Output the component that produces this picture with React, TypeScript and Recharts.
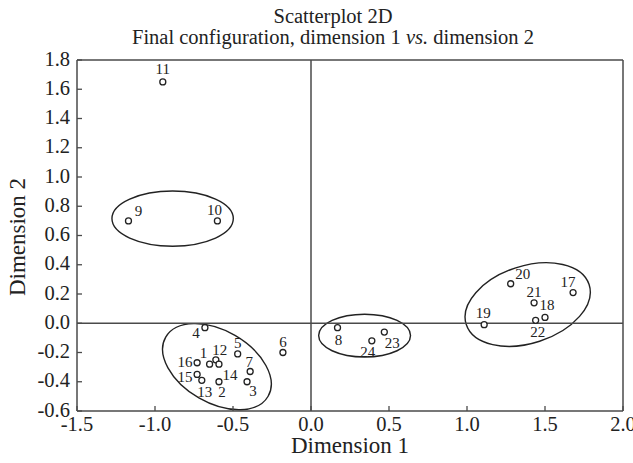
import React from 'react';
import { ScatterChart, Scatter, XAxis, YAxis, ReferenceLine, ReferenceArea } from 'recharts';

const ids = ['1','2','3','4','5','6','7','8','9','10','11','12','13','14','15','16','17','18','19','20','21','22','23','24'];
const dim1 = [-0.65,-0.59,-0.41,-0.68,-0.47,-0.18,-0.39,0.17,-1.17,-0.60,-0.95,-0.61,-0.70,-0.59,-0.73,-0.73,1.68,1.50,1.11,1.28,1.43,1.44,0.47,0.39];
const dim2 = [-0.28,-0.40,-0.40,-0.03,-0.21,-0.20,-0.33,-0.03,0.70,0.70,1.65,-0.25,-0.39,-0.28,-0.35,-0.27,0.21,0.04,-0.01,0.27,0.14,0.02,-0.06,-0.12];

const xTicks = [-1.5,-1.0,-0.5,0.0,0.5,1.0,1.5,2.0];
const yTicks = [-0.6,-0.4,-0.2,0.0,0.2,0.4,0.6,0.8,1.0,1.2,1.4,1.6,1.8];

// cluster ellipses: unrotated extents in data units, plus tilt
const ellX1 = [-1.276,-0.982,0.049,0.975];
const ellX2 = [-0.498,-0.224,0.638,1.803];
const ellY1 = [0.527,-0.544,-0.231,-0.136];
const ellY2 = [0.904,-0.050,0.062,0.392];
const ellTilt = [0,30,0,-18];

// label placement (pixels relative to point)
const labelOffset: Record<string,[number,number]> = {
  '1':[-6,-11],'2':[3,10],'3':[6,9],'4':[-9,5],'5':[0,-11],'6':[0,-11],'7':[-1,-10],'8':[1,12],
  '9':[10,-10],'10':[-3,-11],'11':[0,-13],'12':[4,-10],'13':[3,12],'14':[11,11],'15':[-12,3],'16':[-12,-1],
  '17':[-5,-11],'18':[2,-12],'19':[-1,-12],'20':[12,-10],'21':[0,-11],'22':[2,12],'23':[8,11],'24':[-4,11],
};

const data = ids.map((id, i) => ({ id, x: dim1[i], y: dim2[i] }));

const FONT = '"Liberation Serif", "Times New Roman", serif';
const AX = '#4a4a4a';

const PointShape = (props: any) => {
  const { cx, cy, payload } = props;
  const off = labelOffset[payload.id] || [0, -11];
  return (
    <g>
      <circle cx={cx} cy={cy} r={3} fill="#fff" stroke="#222" strokeWidth={1.3} />
      <text x={cx + off[0]} y={cy + off[1]} textAnchor="middle" dominantBaseline="central"
        fontFamily={FONT} fontSize={15} fill="#222">{payload.id}</text>
    </g>
  );
};

const makeEllipse = (tilt: number) => (p: any) => {
  const cx = p.x + p.width / 2;
  const cy = p.y + p.height / 2;
  return (
    <ellipse cx={cx} cy={cy} rx={Math.abs(p.width) / 2} ry={Math.abs(p.height) / 2}
      transform={`rotate(${tilt} ${cx} ${cy})`} fill="none" stroke="#222" strokeWidth={1.4} />
  );
};

const XTick = (props: any) => {
  const { x, y, payload } = props;
  return (
    <g>
      <line x1={x} y1={y} x2={x} y2={y - 5} stroke={AX} strokeWidth={1.3} />
      <text x={x} y={y + 20} textAnchor="middle" fontFamily={FONT} fontSize={20.5} fill="#222">
        {Number(payload.value).toFixed(1)}
      </text>
    </g>
  );
};

const YTick = (props: any) => {
  const { x, y, payload } = props;
  return (
    <g>
      <line x1={x} y1={y} x2={x + 5} y2={y} stroke={AX} strokeWidth={1.3} />
      <text x={x - 7} y={y - 1.5} textAnchor="end" dominantBaseline="central" fontFamily={FONT} fontSize={20.5} fill="#222">
        {Number(payload.value).toFixed(1)}
      </text>
    </g>
  );
};

export default function App() {
  return (
    <div style={{ position: 'absolute', left: 0, top: 0, width: 633, height: 463, background: '#fff' }}>
      <ScatterChart width={633} height={463} margin={{ top: 60, right: 10, bottom: 22, left: 0 }}>
        <XAxis type="number" dataKey="x" domain={[-1.5, 2.0]} ticks={xTicks} interval={0}
          allowDataOverflow height={30} tickSize={0} tickMargin={0} tickLine={false}
          axisLine={{ stroke: AX, strokeWidth: 1.5 }} tick={<XTick />} />
        <YAxis type="number" dataKey="y" domain={[-0.6, 1.8]} ticks={yTicks} interval={0}
          allowDataOverflow width={77} tickSize={0} tickMargin={0} tickLine={false}
          axisLine={{ stroke: AX, strokeWidth: 1.5 }} tick={<YTick />} />
        <ReferenceLine y={1.8} stroke={AX} strokeWidth={1.5} />
        <ReferenceLine x={2.0} stroke={AX} strokeWidth={1.5} />
        <ReferenceLine y={0} stroke={AX} strokeWidth={1.5} />
        <ReferenceLine x={0} stroke={AX} strokeWidth={1.5} />
        {ellTilt.map((t, i) => (
          <ReferenceArea key={i} x1={ellX1[i]} x2={ellX2[i]} y1={ellY1[i]} y2={ellY2[i]}
            ifOverflow="visible" shape={makeEllipse(t)} />
        ))}
        <Scatter data={data} isAnimationActive={false} shape={<PointShape />} />
      </ScatterChart>
      <svg width={633} height={463} style={{ position: 'absolute', left: 0, top: 0, pointerEvents: 'none' }}>
        <text x={333} y={23} textAnchor="middle" fontFamily={FONT} fontSize={20.5} fill="#222">Scatterplot 2D</text>
        <text x={333} y={44} textAnchor="middle" fontFamily={FONT} fontSize={20.5} fill="#222">
          Final configuration, dimension 1 <tspan fontStyle="italic">vs.</tspan> dimension 2
        </text>
        <text x={350} y={453} textAnchor="middle" fontFamily={FONT} fontSize={23} fill="#222">Dimension 1</text>
        <text transform="translate(25 237) rotate(-90)" textAnchor="middle" fontFamily={FONT} fontSize={23} fill="#222">Dimension 2</text>
      </svg>
    </div>
  );
}
